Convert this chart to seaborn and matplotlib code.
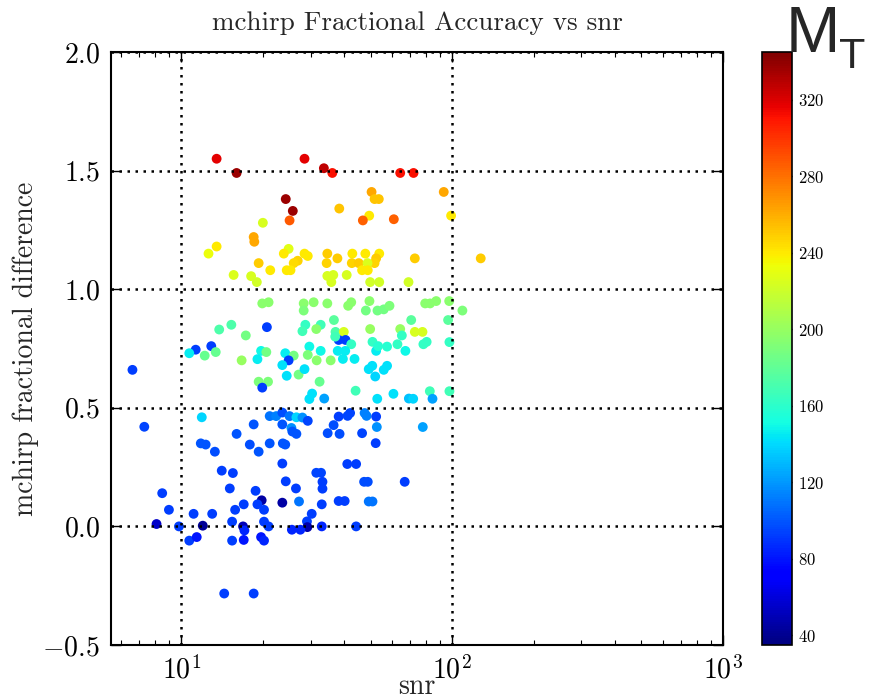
import matplotlib
matplotlib.use("Agg")
import matplotlib.pyplot as plt
import matplotlib as mpl
import seaborn as sns
import numpy as np
import pandas as pd

snr = [13.5, 16.0, 24.3, 25.8, 25.1, 20.0, 18.5, 18.6, 13.5, 12.6, 24.9, 23.9, 19.3, 26.9, 26.0,
       15.6, 18.1, 19.0, 21.3, 24.5, 25.3, 19.9, 21.0, 15.3, 13.8, 20.7, 28.5, 33.6, 36.1, 64.3,
       72.0, 50.4, 51.7, 53.6, 93.1, 38.3, 49.4, 46.8, 60.9, 99.1, 28.5, 29.3, 34.6, 34.4, 37.7,
       42.8, 47.8, 53.8, 52.4, 51.7, 42.6, 45.2, 48.7, 46.5, 48.8, 72.8, 127.5, 34.6, 36.4, 35.8,
       40.8, 49.8, 53.8, 69.0, 28.3, 28.3, 30.8, 34.6, 41.3, 42.4, 49.5, 48.0, 53.0, 55.9, 58.7,
       79.5, 82.9, 87.3, 97.5, 109.1, 70.6, 96.6, 28.7, 32.7, 36.6, 6.6, 17.3, 12.9, 11.3, 10.7,
       12.2, 13.4, 16.7, 19.7, 20.6, 19.1, 24.2, 26.0, 24.9, 23.6, 24.5, 27.1, 19.3, 20.9, 19.9,
       11.9, 7.3, 18.5, 16.0, 21.2, 22.4, 23.6, 25.1, 23.6, 25.5, 25.7, 26.6, 26.6, 11.8, 12.3,
       13.3, 17.9, 19.3, 21.2, 23.7, 24.2, 23.6, 14.1, 15.5, 24.3, 15.1, 18.8, 8.5, 19.8, 19.1,
       23.6, 26.5, 27.2, 9.0, 17.0, 15.8, 20.2, 11.1, 13.0, 8.1, 9.8, 12.0, 15.4, 16.9, 17.1,
       20.2, 21.0, 25.6, 10.7, 11.4, 15.4, 17.0, 19.7, 20.2, 14.4, 18.5, 28.0, 31.5, 37.1, 39.8,
       49.8, 64.3, 72.8, 77.7, 38.1, 40.4, 37.0, 42.4, 50.8, 65.2, 62.8, 80.5, 78.3, 97.7, 29.7,
       32.7, 37.8, 40.3, 52.4, 53.3, 57.5, 67.2, 29.3, 31.6, 35.6, 39.5, 43.6, 28.5, 32.4, 49.2,
       50.7, 52.0, 55.9, 57.5, 44.0, 30.4, 29.7, 33.7, 52.9, 60.7, 69.2, 71.8, 82.7, 84.6, 97.7,
       28.0, 29.3, 38.1, 41.1, 42.0, 47.5, 48.3, 52.4, 52.7, 77.9, 36.5, 34.7, 38.4, 46.5, 52.2,
       41.0, 44.2, 31.5, 32.8, 33.2, 47.3, 48.8, 66.8, 33.2, 33.0, 38.1, 40.1, 49.2, 50.8, 30.3,
       29.1, 29.2, 27.5, 33.0, 44.2]

frac_diff = [1.55, 1.49, 1.38, 1.33, 1.29, 1.28, 1.22, 1.20, 1.18, 1.15, 1.17, 1.15, 1.11, 1.12, 1.11,
             1.06, 1.055, 1.03, 1.08, 1.08, 1.08, 0.94, 0.945, 0.85, 0.83, 0.84, 1.55, 1.51, 1.49, 1.49,
             1.49, 1.41, 1.38, 1.38, 1.41, 1.34, 1.31, 1.29, 1.295, 1.31, 1.15, 1.14, 1.15, 1.11, 1.13,
             1.15, 1.15, 1.15, 1.13, 1.11, 1.11, 1.11, 1.11, 1.08, 1.08, 1.13, 1.13, 1.056, 1.06, 1.03,
             1.06, 1.03, 1.03, 1.03, 0.94, 0.91, 0.945, 0.94, 0.93, 0.945, 0.95, 0.91, 0.91, 0.915, 0.93,
             0.94, 0.94, 0.95, 0.95, 0.91, 0.87, 0.87, 0.85, 0.85, 0.87, 0.66, 0.805, 0.76, 0.745, 0.73,
             0.72, 0.735, 0.70, 0.74, 0.735, 0.705, 0.73, 0.72, 0.70, 0.68, 0.635, 0.64, 0.61, 0.61, 0.585,
             0.46, 0.42, 0.43, 0.39, 0.465, 0.465, 0.48, 0.465, 0.43, 0.415, 0.40, 0.39, 0.46, 0.35, 0.345,
             0.315, 0.345, 0.315, 0.35, 0.35, 0.345, 0.265, 0.235, 0.225, 0.19, 0.16, 0.15, 0.14, 0.11, 0.093,
             0.10, 0.16, 0.105, 0.07, 0.093, 0.07, 0.07, 0.053, 0.053, 0.01, 0.0, 0.003, 0.02, 0.0, -0.017,
             0.02, 0.0, -0.014, -0.06, -0.045, -0.06, -0.057, -0.045, -0.06, -0.283, -0.283, 0.823, 0.832, 0.82, 0.82,
             0.832, 0.832, 0.82, 0.82, 0.786, 0.786, 0.80, 0.768, 0.778, 0.805, 0.768, 0.778, 0.768, 0.777, 0.758,
             0.74, 0.74, 0.74, 0.74, 0.76, 0.758, 0.74, 0.723, 0.70, 0.70, 0.706, 0.706, 0.663, 0.61, 0.663,
             0.677, 0.632, 0.66, 0.677, 0.572, 0.56, 0.537, 0.539, 0.538, 0.559, 0.539, 0.538, 0.57, 0.538, 0.57,
             0.459, 0.445, 0.463, 0.466, 0.478, 0.478, 0.466, 0.463, 0.419, 0.419, 0.427, 0.393, 0.39, 0.393, 0.351,
             0.263, 0.263, 0.226, 0.226, 0.188, 0.188, 0.188, 0.188, 0.159, 0.093, 0.107, 0.107, 0.105, 0.105, 0.053,
             0.021, -0.003, -0.014, 0.0, 0.0]

m_total = [318, 337, 337, 337, 287, 224, 262, 262, 240, 232, 228, 240, 250, 248, 245,
           226, 224, 222, 240, 240, 240, 195, 195, 173, 173, 93, 318, 328, 312, 312,
           312, 262, 252, 252, 262, 252, 240, 285, 285, 240, 240, 240, 250, 248, 250,
           240, 240, 240, 250, 248, 248, 250, 226, 240, 240, 250, 250, 224, 224, 224,
           224, 222, 222, 222, 195, 190, 195, 195, 195, 195, 195, 187, 187, 187, 190,
           195, 195, 195, 195, 190, 177, 177, 163, 168, 177, 93, 187, 92, 93, 146,
           182, 182, 200, 150, 187, 146, 146, 187, 92, 142, 142, 187, 190, 190, 92,
           138, 95, 100, 100, 110, 113, 97, 110, 100, 118, 100, 100, 138, 100, 100,
           97, 97, 100, 100, 100, 100, 93, 92, 92, 92, 92, 92, 92, 45, 92,
           45, 92, 110, 92, 92, 92, 92, 92, 92, 55, 92, 42, 92, 50, 85,
           92, 92, 85, 92, 80, 92, 80, 80, 85, 92, 92, 168, 195, 173, 224,
           200, 200, 224, 224, 92, 92, 168, 163, 163, 163, 163, 163, 163, 163, 150,
           150, 146, 146, 146, 158, 158, 150, 190, 195, 195, 146, 146, 142, 182, 142,
           142, 138, 142, 142, 168, 142, 142, 123, 142, 142, 132, 138, 168, 123, 168,
           118, 95, 92, 95, 95, 113, 113, 93, 118, 123, 97, 97, 97, 95, 93,
           93, 93, 95, 95, 93, 97, 97, 92, 92, 92, 92, 92, 110, 110, 92,
           92, 48, 85, 85, 92]

M_MIN, M_MAX = 35, 345
cbar_ticks = [40, 80, 120, 160, 200, 240, 280, 320]

df = pd.DataFrame({"snr": snr, "frac": frac_diff, "mtot": m_total})

sns.set_style("ticks")
plt.rcParams.update({
    "font.family": "serif",
    "font.serif": ["cmr10"],
    "mathtext.fontset": "cm",
    "axes.formatter.use_mathtext": True,
    "axes.unicode_minus": True,
    "axes.linewidth": 1.5,
    "xtick.direction": "in",
    "ytick.direction": "in",
    "xtick.top": True,
    "ytick.right": True,
    "xtick.major.size": 7,
    "ytick.major.size": 7,
    "xtick.minor.size": 3.5,
    "xtick.minor.visible": True,
    "xtick.major.width": 1.0,
    "ytick.major.width": 1.0,
    "xtick.minor.width": 0.8,
    "xtick.color": "black",
    "ytick.color": "black",
    "axes.edgecolor": "black",
})

jet = mpl.colormaps["jet"]

fig = plt.figure(figsize=(8.71, 7.0), dpi=100)
ax = fig.add_axes([111 / 871, 55 / 700, (723 - 111) / 871, (645 - 52) / 700])

norm = mpl.colors.Normalize(vmin=M_MIN, vmax=M_MAX)
sns.scatterplot(data=df, x="snr", y="frac", hue="mtot", palette=jet, hue_norm=norm,
                s=50, linewidth=0, legend=False, ax=ax, zorder=1)

ax.set_xscale("log")
ax.set_xlim(5.5, 1000)
ax.set_ylim(-0.5, 2.0)
ax.set_yticks([-0.5, 0.0, 0.5, 1.0, 1.5, 2.0])
ax.grid(True, which="major", color="black", linestyle=(0, (1, 2.2)), linewidth=1.8)
ax.set_axisbelow(False)
ax.tick_params(axis="both", which="major", labelsize=20, pad=8)
ax.set_xlabel("snr", fontsize=20, labelpad=-8)
ax.set_ylabel("mchirp fractional difference", fontsize=20, labelpad=2)
ax.set_title("mchirp Fractional Accuracy vs snr", fontsize=19.5, pad=16)

cax = fig.add_axes([762 / 871, 55 / 700, 30 / 871, (645 - 52) / 700])
sm = mpl.cm.ScalarMappable(norm=norm, cmap=jet)
cb = fig.colorbar(sm, cax=cax, ticks=cbar_ticks)
cb.outline.set_linewidth(1.2)
cax.tick_params(direction="in", length=5, width=1, labelsize=12, pad=4, right=True, left=False)
cax.minorticks_off()

fig.text(786 / 871, 1 - 52 / 700, "M", fontsize=47, family="Liberation Sans", ha="left", va="baseline")
fig.text(839 / 871, 1 - 68 / 700, "T", fontsize=31, family="Liberation Sans", ha="left", va="baseline")

fig.savefig("out.png", dpi=100)
